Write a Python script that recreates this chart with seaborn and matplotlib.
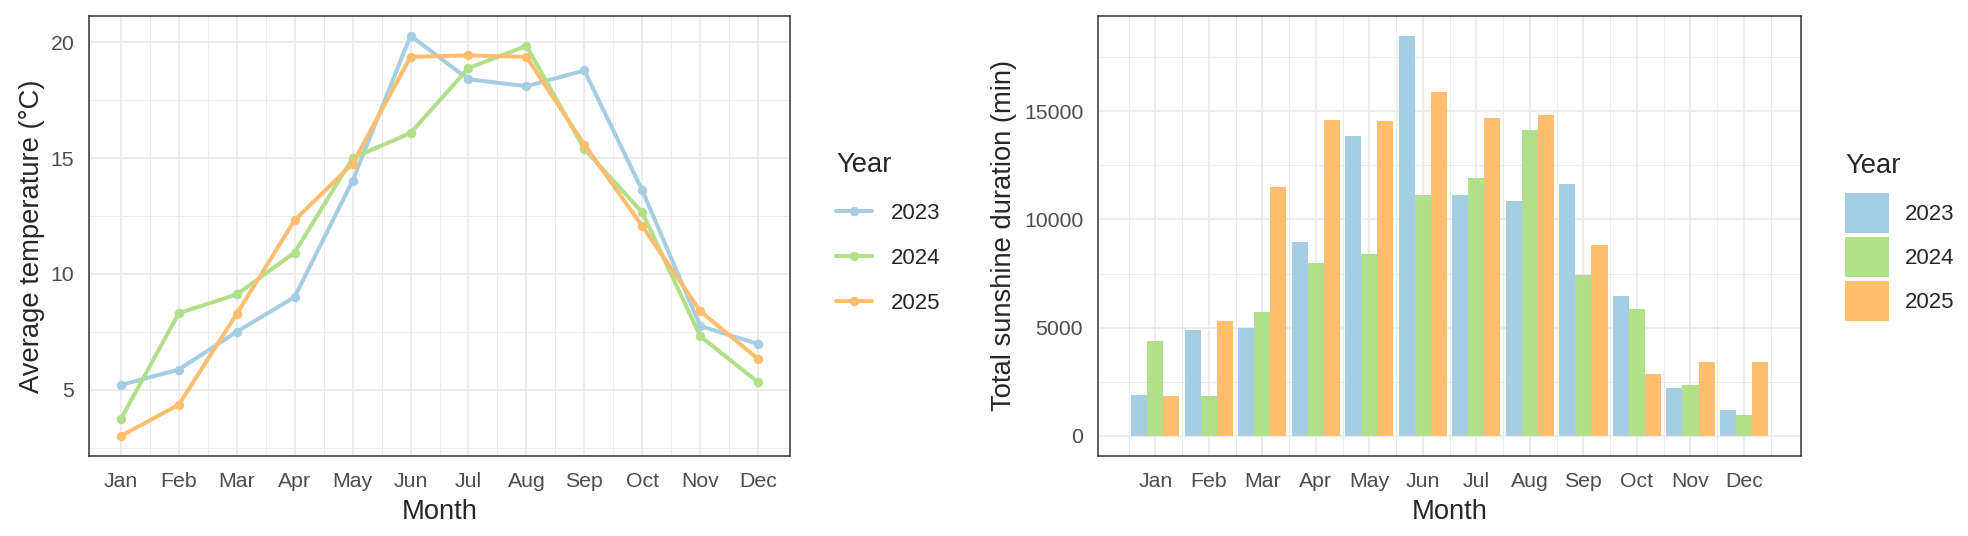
import matplotlib
matplotlib.use("Agg")
import matplotlib.pyplot as plt
import pandas as pd
import seaborn as sns

# data
months = ["Jan", "Feb", "Mar", "Apr", "May", "Jun",
          "Jul", "Aug", "Sep", "Oct", "Nov", "Dec"]
years = ["2023", "2024", "2025"]

temp_2023 = [5.2, 5.87, 7.5, 9.0, 14.02, 20.28, 18.4, 18.1, 18.78, 13.6, 7.75, 6.97]
temp_2024 = [3.73, 8.3, 9.11, 10.92, 15.0, 16.08, 18.88, 19.84, 15.39, 12.65, 7.31, 5.32]
temp_2025 = [3.0, 4.35, 8.27, 12.32, 14.75, 19.37, 19.43, 19.37, 15.58, 12.06, 8.39, 6.32]

sun_2023 = [1895, 4879, 5005, 8969, 13847, 18480, 11148, 10864, 11653, 6450, 2200, 1205]
sun_2024 = [4374, 1847, 5716, 7974, 8400, 11148, 11922, 14117, 7450, 5880, 2340, 985]
sun_2025 = [1847, 5290, 11511, 14606, 14543, 15885, 14685, 14827, 8811, 2840, 3398, 3398]

colors = {"2023": "#A6CEE3", "2024": "#B2DF8A", "2025": "#FDBF6F"}

temp = pd.DataFrame({
    "Month": months * 3,
    "idx": list(range(12)) * 3,
    "Year": [y for y in years for _ in months],
    "Temp": temp_2023 + temp_2024 + temp_2025,
})
sun = pd.DataFrame({
    "Month": months * 3,
    "Year": [y for y in years for _ in months],
    "Sun": sun_2023 + sun_2024 + sun_2025,
})

sns.set_style("white")
plt.rcParams["font.family"] = ["Liberation Sans", "DejaVu Sans"]

W, H = 1968, 536
fig = plt.figure(figsize=(W / 100, H / 100), dpi=100)
top, bottom = 15.7, 456
ax1 = fig.add_axes([89 / W, 1 - bottom / H, (790 - 89) / W, (bottom - top) / H])
ax2 = fig.add_axes([1098 / W, 1 - bottom / H, (1801 - 1098) / W, (bottom - top) / H])

tick_fs, title_fs, leg_fs = 15.3, 19.7, 16
grey = "#4D4D4D"


def style_axis(ax):
    for s in ax.spines.values():
        s.set_color("#333333")
        s.set_linewidth(1.1)
    ax.grid(True, which="major", color="#EBEBEB", linewidth=1.3)
    ax.grid(True, which="minor", color="#EBEBEB", linewidth=0.7)
    ax.set_axisbelow(True)
    ax.tick_params(which="major", length=4.7, width=1.1, color="#333333",
                   labelsize=tick_fs, labelcolor=grey)
    ax.tick_params(axis="x", which="major", pad=6.5)
    ax.tick_params(axis="y", which="major", pad=6)
    ax.tick_params(which="minor", length=0)
    ax.set_xlabel("Month", fontsize=title_fs, labelpad=6)


# left: average temperature lines
sns.lineplot(data=temp, x="idx", y="Temp", hue="Year", palette=colors,
             marker="o", markersize=6.8, markeredgewidth=0, linewidth=2.9,
             ax=ax1)
ax1.set_xticks(range(12))
ax1.set_xticklabels(months)
ax1.set_xticks([i + 0.5 for i in range(11)], minor=True)
ax1.set_xlim(-0.55, 11.55)
tmin, tmax = temp["Temp"].min(), temp["Temp"].max()
pad = (tmax - tmin) * 0.05
ax1.set_ylim(tmin - pad, tmax + pad)
ax1.set_yticks([5, 10, 15, 20])
ax1.set_yticks([2.5, 7.5, 12.5, 17.5], minor=True)
ax1.set_ylabel("Average temperature (°C)", fontsize=title_fs, labelpad=4)
style_axis(ax1)
h, l = ax1.get_legend_handles_labels()
leg1 = ax1.legend(h, l, title="Year", loc="upper left",
                  bbox_to_anchor=(836 / W, 1 - 152 / H),
                  bbox_transform=fig.transFigure,
                  frameon=False, fontsize=leg_fs, title_fontsize=title_fs,
                  alignment="left", borderpad=0, borderaxespad=0,
                  handlelength=1.62, handletextpad=0.86, labelspacing=1.09)
leg1._legend_box.sep = 17.8

# right: sunshine duration bars
sns.barplot(data=sun, x="Month", y="Sun", hue="Year", order=months,
            hue_order=years, palette=colors, saturation=1, width=0.9,
            gap=0, linewidth=0, errorbar=None, ax=ax2)
ax2.set_xticks([i + 0.5 for i in range(-1, 12)], minor=True)
ax2.set_xlim(-1.07, 12.065)
smax = sun["Sun"].max()
ax2.set_ylim(-0.05 * smax, 1.05 * smax)
ax2.set_yticks([0, 5000, 10000, 15000])
ax2.set_yticks([2500, 7500, 12500, 17500], minor=True)
ax2.set_ylabel("Total sunshine duration (min)", fontsize=title_fs, labelpad=5)
style_axis(ax2)
h, l = ax2.get_legend_handles_labels()
leg2 = ax2.legend(h, l, title="Year", loc="upper left",
                  bbox_to_anchor=(1845 / W, 1 - 153 / H),
                  bbox_transform=fig.transFigure,
                  frameon=False, fontsize=leg_fs, title_fontsize=title_fs,
                  alignment="left", borderpad=0, borderaxespad=0,
                  handlelength=1.98, handleheight=2.39, handletextpad=0.72,
                  labelspacing=0.18)
leg2._legend_box.sep = 10.2

fig.savefig("out.png", dpi=100)
